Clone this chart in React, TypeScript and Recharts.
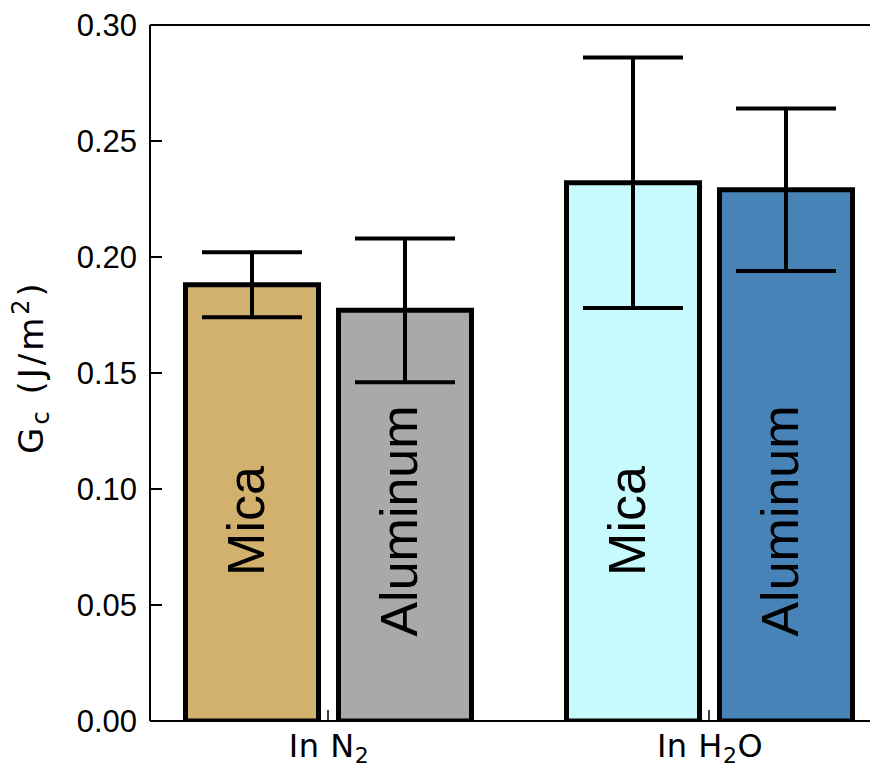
import React from "react";
import {
  BarChart,
  Bar,
  XAxis,
  YAxis,
  ErrorBar,
  Cell,
  LabelList,
  ReferenceLine,
} from "recharts";

// Critical energy release rate per substrate, measured in two environments
const conditions = ["In N2", "In H2O"];
const micaGc = [0.188, 0.232];
const micaErr = [0.014, 0.054];
const aluminumGc = [0.177, 0.229];
const aluminumErr = [0.031, 0.035];
const micaColors = ["#D2B16E", "#C7FAFC"];
const aluminumColors = ["#A9A9A9", "#4883B8"];
const yTicks = [0, 0.05, 0.1, 0.15, 0.2, 0.25, 0.3];

const data = conditions.map((condition, i) => ({
  condition,
  mica: micaGc[i],
  micaErr: micaErr[i],
  aluminum: aluminumGc[i],
  aluminumErr: aluminumErr[i],
}));

const FONT = '"Liberation Sans", Arial, Helvetica, sans-serif';
const MATH_FONT = '"DejaVu Sans", sans-serif';

// left axis: inward tick plus value label
const ValueTick = (props: any) => {
  const { x, y, payload } = props;
  return (
    <g>
      <line x1={x} x2={x + 12} y1={y} y2={y} stroke="#000" strokeWidth={2} />
      <text
        x={x - 13}
        y={y + 11}
        textAnchor="end"
        fontSize={31}
        fontFamily={FONT}
        fill="#000"
      >
        {Number(payload.value).toFixed(2)}
      </text>
    </g>
  );
};

// right axis: inward tick only
const MirrorTick = (props: any) => {
  const { x, y } = props;
  return <line x1={x} x2={x - 11} y1={y} y2={y} stroke="#000" strokeWidth={2} />;
};

// category label with digits set as subscripts (N2, H2O)
const ConditionTick = (props: any) => {
  const { x, y, payload } = props;
  const parts: string[] = String(payload.value).split(/(\d+)/).filter(Boolean);
  return (
    <g>
      <line x1={x} x2={x} y1={y} y2={y - 11} stroke="#000" strokeWidth={1.5} />
      <text
        x={x + 1}
        y={y + 36}
        textAnchor="middle"
        fontFamily={MATH_FONT}
        fill="#000"
        style={{ fontSize: 32, letterSpacing: 0.5 }}
      >
        {parts.map((p, i) => {
          const isSub = /^\d+$/.test(p);
          const prevSub = i > 0 && /^\d+$/.test(parts[i - 1]);
          return (
            <tspan
              key={i}
              style={{ fontSize: isSub ? 22 : 32 }}
              dy={isSub ? 6 : prevSub ? -6 : 0}
            >
              {p}
            </tspan>
          );
        })}
      </text>
    </g>
  );
};

const GcLabel = (props: any) => {
  const { viewBox } = props;
  const cy = viewBox.y + viewBox.height / 2 - 6;
  return (
    <text
      transform={`translate(35,${cy}) rotate(-90)`}
      textAnchor="middle"
      fontFamily={MATH_FONT}
      fill="#000"
      style={{ fontSize: 34, letterSpacing: 3 }}
    >
      <tspan>G</tspan>
      <tspan style={{ fontSize: 24 }} dy={6}>
        c
      </tspan>
      <tspan dy={-6}> (J/m</tspan>
      <tspan style={{ fontSize: 24 }} dy={-14}>
        2
      </tspan>
      <tspan dy={14}>)</tspan>
    </text>
  );
};

const materialLabel = (name: string) => (props: any) => {
  const x = Number(props.x);
  const y = Number(props.y);
  const w = Number(props.width);
  const h = Number(props.height);
  const cx = x + w / 2 + 12;
  const cy = y + h - 200;
  return (
    <text
      transform={`translate(${cx},${cy}) rotate(-90)`}
      textAnchor="middle"
      fontSize={52}
      fontFamily={FONT}
      fill="#000"
    >
      {name}
    </text>
  );
};

const App = () => {
  return (
    <div style={{ width: 877, height: 759 }}>
      <style>{"body{overflow:hidden}"}</style>
      <BarChart
        width={877}
        height={759}
        data={data}
        margin={{ top: 17, right: 0, bottom: 0, left: 0 }}
        barSize={133}
        barGap={20}
      >
        <XAxis
          dataKey="condition"
          height={46}
          interval={0}
          padding={{ left: -12.5, right: -14.5 }}
          axisLine={{ stroke: "#000", strokeWidth: 2 }}
          tickLine={false}
          tickSize={0}
          tickMargin={0}
          tick={<ConditionTick />}
        />
        <YAxis
          width={142}
          domain={[0, 0.3]}
          ticks={yTicks}
          allowDataOverflow
          axisLine={{ stroke: "#000", strokeWidth: 2 }}
          tickLine={false}
          tickSize={0}
          tickMargin={0}
          tick={<ValueTick />}
          label={GcLabel}
        />
        <YAxis
          yAxisId="right"
          orientation="right"
          width={0}
          domain={[0, 0.3]}
          ticks={yTicks}
          axisLine={{ stroke: "#000", strokeWidth: 2 }}
          tickLine={false}
          tickSize={0}
          tickMargin={0}
          tick={<MirrorTick />}
        />
        <ReferenceLine y={0.3} stroke="#000" strokeWidth={2} />
        <Bar
          dataKey="mica"
          stroke="#000"
          strokeWidth={5}
          isAnimationActive={false}
        >
          {data.map((_, i) => (
            <Cell key={i} fill={micaColors[i]} />
          ))}
          <ErrorBar
            dataKey="micaErr"
            direction="y"
            width={50}
            stroke="#000"
            strokeWidth={4}
            isAnimationActive={false}
          />
          <LabelList dataKey="mica" content={materialLabel("Mica")} />
        </Bar>
        <Bar
          dataKey="aluminum"
          stroke="#000"
          strokeWidth={5}
          isAnimationActive={false}
        >
          {data.map((_, i) => (
            <Cell key={i} fill={aluminumColors[i]} />
          ))}
          <ErrorBar
            dataKey="aluminumErr"
            direction="y"
            width={50}
            stroke="#000"
            strokeWidth={4}
            isAnimationActive={false}
          />
          <LabelList dataKey="aluminum" content={materialLabel("Aluminum")} />
        </Bar>
      </BarChart>
    </div>
  );
};

export default App;
